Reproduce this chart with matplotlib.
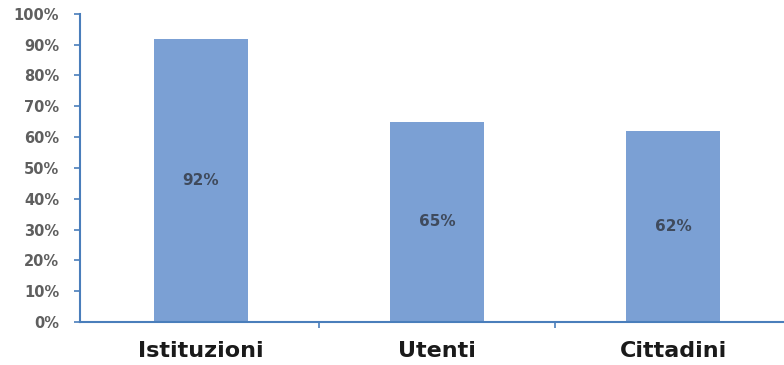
import numpy as np
import matplotlib
matplotlib.use("Agg")
import matplotlib.pyplot as plt
from matplotlib.ticker import PercentFormatter

# -----------------------------
# Data
# -----------------------------
categories = ["Istituzioni", "Utenti", "Cittadini"]
values = [92, 65, 62]
y_ticks = list(range(0, 101, 10))

bar_color = "#7BA0D4"
axis_color = "#4A7EBB"

# -----------------------------
# Plot
# -----------------------------
fig = plt.figure(figsize=(7.84, 3.65), dpi=100)
ax = fig.add_axes([0.102, 0.118, 0.898, 0.844])

x = np.arange(len(categories))
bars = ax.bar(x, values, width=0.4, color=bar_color, zorder=2)

for rect, v in zip(bars, values):
    ax.text(rect.get_x() + rect.get_width() / 2, v / 2, f"{v}%",
            ha="center", va="center", fontsize=11, fontweight="bold", color="#3F4A5C")

ax.set_xlim(-0.513, 2.47)
ax.set_ylim(0, 100)
ax.set_yticks(y_ticks)
ax.yaxis.set_major_formatter(PercentFormatter(decimals=0))

# category ticks sit between groups
ax.set_xticks(x)
ax.set_xticklabels(categories, fontsize=16, fontweight="bold", color="#1a1a1a")
ax.tick_params(axis="x", length=0, pad=14)
ax.set_xticks([0.5, 1.5], minor=True)
ax.tick_params(axis="x", which="minor", length=4, color=axis_color, width=1.2)

ax.tick_params(axis="y", length=4, color=axis_color, width=1.2, labelsize=10.5,
               labelcolor="#5f5f5f", pad=11)
for lbl in ax.get_yticklabels():
    lbl.set_fontweight("bold")

for side in ["top", "right"]:
    ax.spines[side].set_visible(False)
for side in ["left", "bottom"]:
    ax.spines[side].set_color(axis_color)
    ax.spines[side].set_linewidth(1.5)

fig.savefig("out.png", dpi=100)
plt.close(fig)
